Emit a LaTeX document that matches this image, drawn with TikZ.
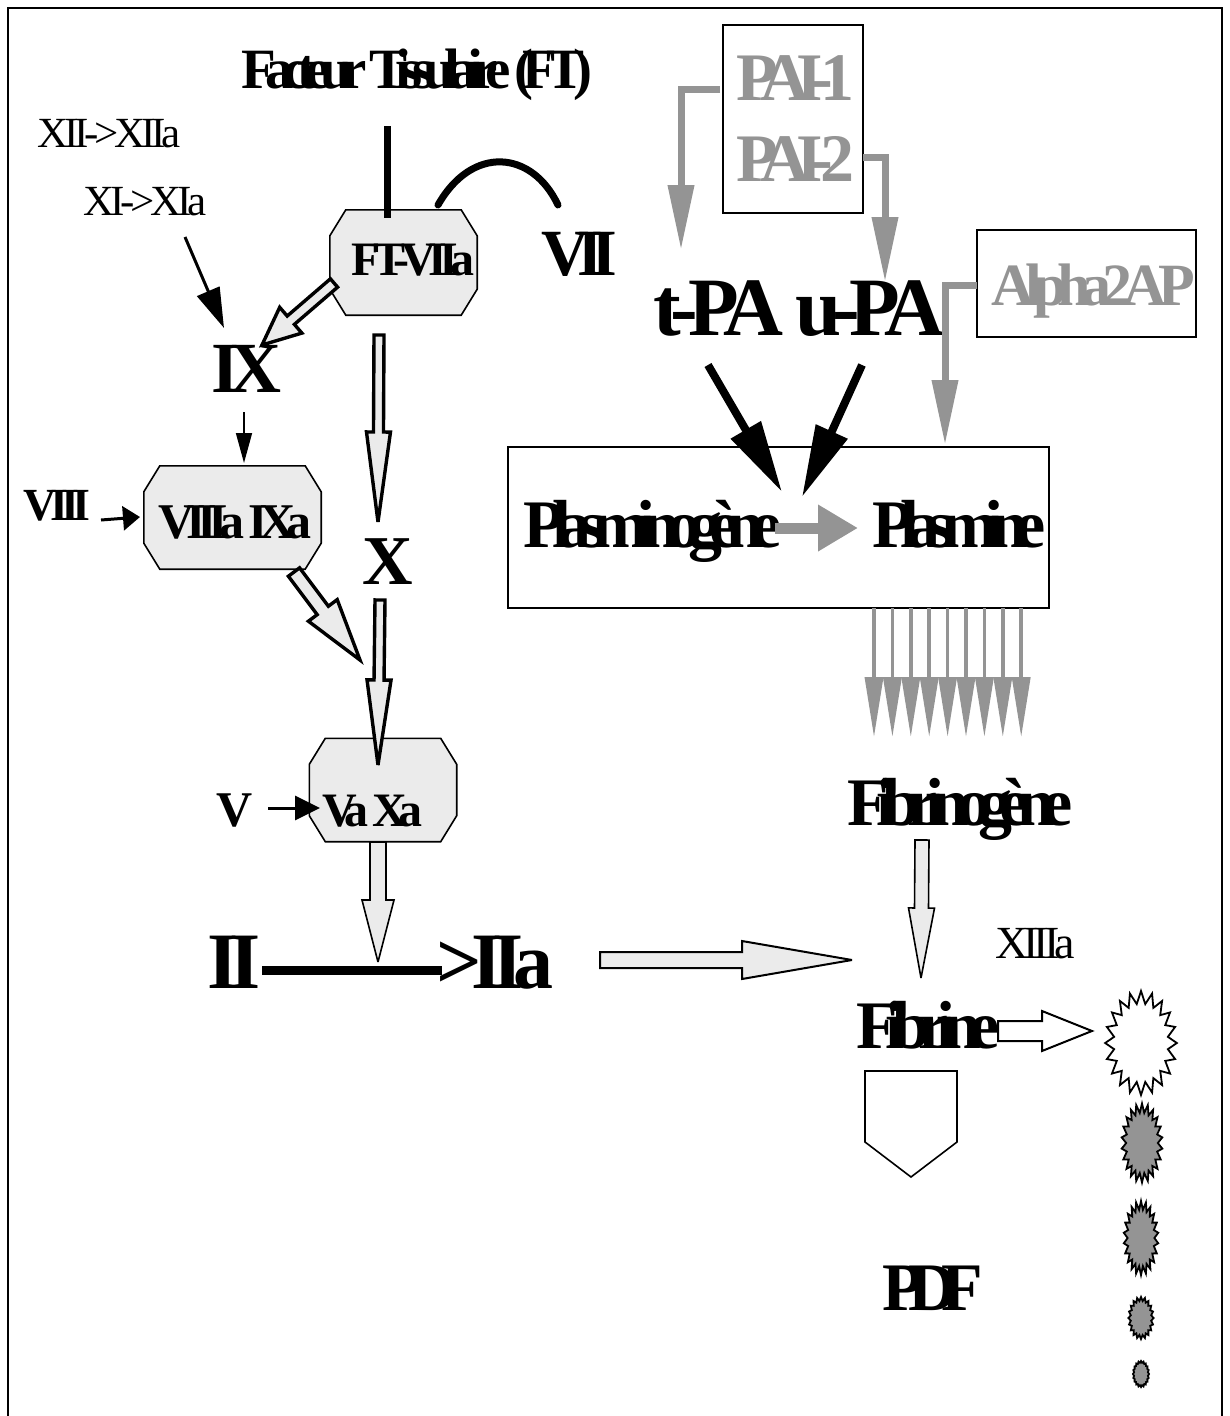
\documentclass[tikz,border=0pt]{standalone}
\usepackage{fontspec}
\setmainfont{Liberation Serif}
\usetikzlibrary{positioning,calc,arrows.meta,shapes.geometric}
\definecolor{figgray}{RGB}{148,148,148}
\definecolor{figfill}{RGB}{235,235,235}
\newcommand{\figsize}[2]{\fontsize{#1}{#1}\selectfont\addfontfeatures{LetterSpace=#2}}
% style, from, to, shaft half width, head half width, head length
\newcommand{\blockarrow}[6][]{%
  \coordinate (headbase) at ($(#3)!#6pt!(#2)$);
  \draw[figblock,#1] ($(#2)!#4pt!90:(#3)$) -- ($(headbase)!#4pt!90:(#3)$)
    -- ($(headbase)!#5pt!90:(#3)$) -- (#3) -- ($(headbase)!#5pt!-90:(#3)$)
    -- ($(headbase)!#4pt!-90:(#3)$) -- ($(#2)!#4pt!-90:(#3)$) -- cycle;
}
% outline with cut corners round a named box
\newcommand{\hexoutline}[1]{%
  \draw[fighex] ($(#1.north west)+(16,0)$) -- ($(#1.north east)+(-16,0)$)
    -- ($(#1.north east)+(0,26)$) -- ($(#1.south east)+(0,-26)$)
    -- ($(#1.south east)+(-16,0)$) -- ($(#1.south west)+(16,0)$)
    -- ($(#1.south west)+(0,-26)$) -- ($(#1.north west)+(0,26)$) -- cycle;
}
\tikzset{
  figbold/.style 2 args={anchor=base, inner sep=0pt, font=\bfseries\figsize{#1}{#2}},
  figreg/.style 2 args={anchor=base, inner sep=0pt, font=\figsize{#1}{#2}},
  figgraytext/.style={text=figgray},
  figframe/.style={draw, line width=2pt, anchor=north west, inner sep=0pt},
  figcell/.style={inner sep=0pt},
  fighex/.style={line width=1.6pt, fill=figfill},
  figblock/.style={draw, line width=3.4pt, fill=figfill, miter limit=4},
  figthin/.style={line width=1.6pt},
  figgrayline/.style={draw=figgray, line width=7pt},
  figgrayhead/.style={figgrayline, -{Triangle[length=65pt,width=25pt]}},
  figpeak/.style={draw, line width=1.8pt, star, inner sep=0pt, transform shape},
}
\begin{document}
\begin{tikzpicture}[x=1pt,y=-1pt]
  \useasboundingbox (0,0) rectangle (1230,1416);
  \draw[line width=2.5pt] (8,1416) -- (8,8) -- (1222,8) -- (1222,1416);

  % Boxes
  \node[figcell, minimum width=147pt, minimum height=105pt] (ftbox) at (403.5,262.5) {};
  \node[figcell, minimum width=177pt, minimum height=103pt] (ixbox) at (232.5,517.5) {};
  \node[figcell, minimum width=147pt, minimum height=103pt] (xbox) at (383,790) {};
  \hexoutline{ftbox}
  \hexoutline{ixbox}
  \hexoutline{xbox}
  \node[figframe, minimum width=140pt, minimum height=188pt] (paibox) at (722,24) {};
  \node[figframe, minimum width=219pt, minimum height=107pt] (alphabox) at (976,229) {};
  \node[figframe, minimum width=541pt, minimum height=161pt] (plasmabox) at (507,446) {};

  % Left cascade labels
  \node[figbold={57}{-19}] (ft) at (417,88) {Facteur Tissulaire (FT)};
  \node[figreg={43}{-10}] (xii) at (109,147) {XII->XIIa};
  \node[figreg={43}{-10}] (xi) at (145,215) {XI->XIa};
  \node[figbold={48}{-16}] (ftvii) at (413,275) {FT-VIIa};
  \node[figbold={66}{-18}] (vii) at (579,275) {VII};
  \node[figbold={72}{-14}] (ix) at (246,392) {IX};
  \node[figbold={46}{-15}] (viii) at (57,520) {VIII};
  \node[figbold={50}{-17}] (viiiix) at (235.5,538) {VIIIa IXa};
  \node[figbold={70}{0}] (x) at (388,584) {X};
  \node[figbold={50}{0}] (v) at (235,826) {V};
  \node[figbold={48}{-17}] (vax) at (372.5,826) {Va Xa};
  \node[figbold={80}{-11}] (ii) at (234,988) {II};
  \node[figbold={80}{-13}] (iia) at (495,988) {>IIa};

  % Right side labels
  \node[figbold={68}{-19}, figgraytext] (paione) at (795.5,100) {PAI-1};
  \node[figbold={68}{-19}, figgraytext] (paitwo) at (795.5,181) {PAI-2};
  \node[figbold={60}{-15}, figgraytext] (alpha) at (1093,305) {Alpha2AP};
  \node[figbold={83}{-12}] (tpa) at (718,335) {t-PA};
  \node[figbold={83}{-12}] (upa) at (870,335) {u-PA};
  \node[figbold={68}{-19}] (plasminogen) at (652.5,547) {Plasminogène};
  \node[figbold={68}{-19}] (plasmin) at (959,547) {Plasmine};
  \node[figbold={68}{-18.5}] (fibrinogen) at (960,825) {Fibrinogène};
  \node[figreg={46}{-11}] (xiii) at (1035,958) {XIIIa};
  \node[figbold={68}{-17.5}] (fibrin) at (928,1048) {Fibrine};
  \node[figbold={68}{-23}] (pdf) at (933,1310) {PDF};

  % Fibrin fragments
  \node[figpeak, fill=white, star points=20, star point ratio=1.32, minimum size=104pt, xscale=0.69] (peaka) at (1141,1043) {};
  \node[figpeak, fill=figgray, star points=22, star point ratio=1.3, minimum size=79pt, xscale=0.52] (peakb) at (1142,1143) {};
  \node[figpeak, fill=figgray, star points=22, star point ratio=1.3, minimum size=74pt, xscale=0.47] (peakc) at (1141,1238) {};
  \node[figpeak, fill=figgray, star points=20, star point ratio=1.22, minimum size=42pt, xscale=0.6] (peakd) at (1141,1318) {};
  \node[figpeak, fill=figgray, star points=20, star point ratio=1.15, minimum size=26pt, xscale=0.62] (peake) at (1141,1374) {};
  \draw[line width=1.6pt] (865,1071) -- (957,1071) -- (957,1142) -- (911,1177) -- (865,1142) -- cycle;

  % Free ends
  \coordinate (ftin) at (387,126);
  \coordinate (ftend) at (387,218);
  \coordinate (viistart) at (558,205);
  \coordinate (viiend) at (438,205);
  \coordinate (xiout) at (185,237);
  \coordinate (ixin) at (224,328);
  \coordinate (ixout) at (244,412);
  \coordinate (ixboxin) at (244,463);
  \coordinate (viiiout) at (101,520);
  \coordinate (viiiin) at (140,517);
  \coordinate (vout) at (268,808);
  \coordinate (vin) at (320,808);
  \coordinate (iiout) at (262,970);
  \coordinate (iiin) at (442,970);

  % Black lines and arrows
  \draw[line width=7pt] (ftin) -- (ftend);
  \draw[line width=7pt, line cap=round] (viistart) .. controls (532,150) and (472,145) .. (viiend);
  \draw[line width=3pt, -{Triangle[length=40pt,width=24pt]}] (xiout) -- (ixin);
  \draw[figthin, -{Triangle[length=30pt,width=16pt]}] (ixout) -- (ixboxin);
  \draw[line width=3pt, -{Triangle[length=17pt,width=24pt]}] (viiiout) -- (viiiin);
  \draw[line width=3pt, -{Triangle[length=25pt,width=24pt]}] (vout) -- (vin);
  \draw[line width=9pt] (iiout) -- (iiin);

  % Block arrows
  \coordinate (fta) at (334,283);
  \coordinate (ftb) at (262,345);
  \blockarrow{fta}{ftb}{5.5}{17}{38}
  \coordinate (ftc) at (379,335);
  \coordinate (ftd) at (378,522);
  \blockarrow{ftc}{ftd}{5}{12}{90}
  \coordinate (ixa) at (294,572);
  \coordinate (ixb) at (360,660);
  \blockarrow{ixa}{ixb}{7}{18}{62}
  \coordinate (xa) at (380,600);
  \coordinate (xb) at (378,765);
  \blockarrow{xa}{xb}{5}{12}{85}
  \coordinate (xc) at (378,842);
  \coordinate (xd) at (378,962);
  \blockarrow[figthin]{xc}{xd}{8}{16}{62}
  \coordinate (iia) at (600,960);
  \coordinate (iib) at (852,960);
  \blockarrow[line width=2pt]{iia}{iib}{8}{19}{110}
  \coordinate (fga) at (922,840);
  \coordinate (fgb) at (921,978);
  \blockarrow[figthin]{fga}{fgb}{7}{13}{70}
  \coordinate (fba) at (998,1031);
  \coordinate (fbb) at (1092,1031);
  \blockarrow[line width=2pt, fill=white]{fba}{fbb}{10}{20}{50}

  % Gray inhibitor arrows
  \coordinate (paia) at (720,89);
  \coordinate (paib) at (681,250);
  \draw[figgrayhead] (paia) -| (paib);
  \coordinate (paic) at (863,157);
  \coordinate (paid) at (885,282);
  \draw[figgrayhead] (paic) -| (paid);
  \coordinate (alphaa) at (977,285);
  \coordinate (alphab) at (945,445);
  \draw[figgrayhead] (alphaa) -| (alphab);
  \coordinate (plasa) at (775,528);
  \coordinate (plasb) at (858,528);
  \draw[draw=figgray, line width=11pt, -{Triangle[length=40pt,width=44pt]}] (plasa) -- (plasb);

  % Activators
  \coordinate (tpaa) at (708,365);
  \coordinate (tpab) at (782,492);
  \draw[line width=8pt, -{Triangle[length=72pt,width=33pt]}] (tpaa) -- (tpab);
  \coordinate (upaa) at (862,365);
  \coordinate (upab) at (802,497);
  \draw[line width=8pt, -{Triangle[length=72pt,width=33pt]}] (upaa) -- (upab);

  % Fibrinogen arrows
  \foreach \i [evaluate=\i as \xpos using 874+18.4*\i] in {0,...,8} {
    \coordinate (lysa\i) at (\xpos,608);
    \coordinate (lysb\i) at (\xpos,737);
    \draw[draw=figgray, line width=3.5pt, -{Triangle[length=60pt,width=18pt]}] (lysa\i) -- (lysb\i);
  }
\end{tikzpicture}
\end{document}
